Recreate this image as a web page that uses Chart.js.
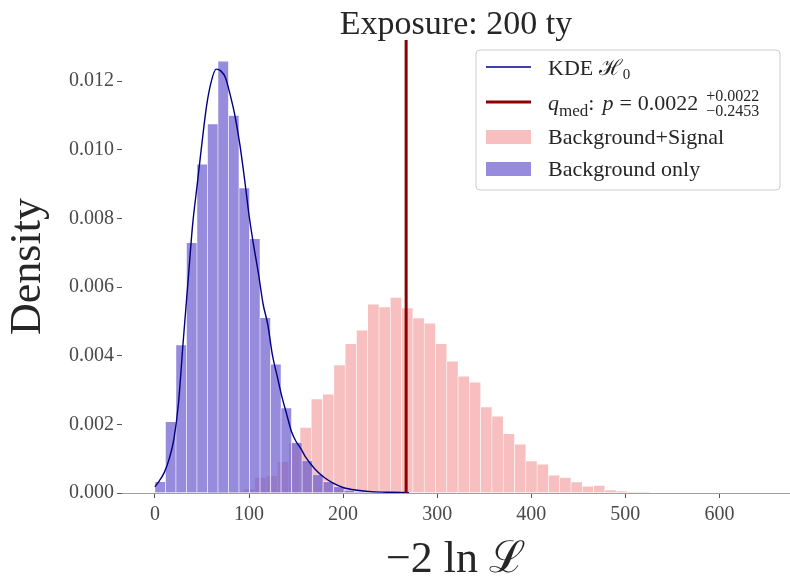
<!DOCTYPE html>
<html>
<head>
<meta charset="utf-8">
<script src="https://cdn.jsdelivr.net/npm/chart.js@4.4.1/dist/chart.umd.min.js"></script>
<style>
  html, body { margin: 0; padding: 0; background: #fff; }
  #wrap { width: 790px; height: 580px; }
</style>
</head>
<body>
<div id="wrap"><canvas id="histChart" width="790" height="580"></canvas></div>
<script>
// background only: bin start, bin width, density per bin
const bgStart = 0;
const bgWidth = 11.17;
const bgDensity = [0.00033, 0.00208, 0.00431, 0.00729, 0.00958, 0.01075, 0.01258, 0.0110, 0.00889, 0.00741,
  0.00511, 0.00375, 0.00248, 0.00147, 0.00094, 0.00054, 0.00033, 0.00018, 0.00008, 0.00004, 0.00002];

// background + signal
const sigStart = 58.2;
const sigWidth = 12.0;
const sigDensity = [0.00002, 0.00003, 0.00004, 0.00012, 0.00045, 0.0005, 0.00091, 0.00145, 0.00191, 0.00274,
  0.00288, 0.00373, 0.00435, 0.00474, 0.0055, 0.00542, 0.0057, 0.00539, 0.0051, 0.00495,
  0.00435, 0.00384, 0.0034, 0.00323, 0.00251, 0.00224, 0.00173, 0.00142, 0.00093, 0.00084,
  0.00052, 0.00045, 0.00032, 0.0002, 0.00022, 0.00009, 0.00006, 0.00003, 0.00002];

// KDE of H0
const kdeX = [0, 5, 10, 15, 20, 25, 30, 35, 40, 45, 50, 55, 60, 65, 70, 75, 80, 85, 90, 95, 100,
  105, 110, 115, 120, 125, 130, 135, 140, 145, 150, 155, 160, 170, 180, 190, 200, 215, 230, 250, 270];
const kdeY = [0.00018, 0.00037, 0.0006, 0.00098, 0.00155, 0.0026, 0.0044, 0.0061, 0.0078, 0.0090, 0.0102,
  0.0113, 0.0120, 0.01235, 0.0123, 0.0121, 0.0116, 0.0110, 0.0102, 0.0092, 0.0081,
  0.0072, 0.0064, 0.0055, 0.0049, 0.0040, 0.0034, 0.0028, 0.0023, 0.0018, 0.0015,
  0.0013, 0.00105, 0.0007, 0.00045, 0.00028, 0.00016, 0.00008, 0.00004, 0.00002, 0.00001];

// median test statistic
const qMed = 267;

const xMin = -35, xMax = 675;
const yMin = 0, yMax = 0.0132;
const xTicks = [0, 100, 200, 300, 400, 500, 600];
const yTicks = [0, 0.002, 0.004, 0.006, 0.008, 0.010, 0.012];

const SERIF = '"Liberation Serif", "DejaVu Serif", serif';
const TEXT = '#262626';
const BLUE = 'rgba(106, 90, 205, 0.7)';
const PINK = 'rgba(240, 128, 128, 0.5)';

const bgData = bgDensity.map((d, i) => ({ x: bgStart + bgWidth * (i + 0.5), y: d }));
const sigData = sigDensity.map((d, i) => ({ x: sigStart + sigWidth * (i + 0.5), y: d }));
const kdeData = kdeX.map((x, i) => ({ x: x, y: kdeY[i] }));

// title and legend drawn by hand (sub/superscripts)
const decorPlugin = {
  id: 'decor',
  afterDraw(chart) {
    const ctx = chart.ctx;
    const area = chart.chartArea;
    ctx.save();
    ctx.fillStyle = TEXT;
    ctx.textBaseline = 'alphabetic';

    // title
    ctx.font = '34px ' + SERIF;
    ctx.textAlign = 'center';
    ctx.fillText('Exposure: 200 ty', (area.left + area.right) / 2, 34);

    // legend frame
    const lx = 476, ly = 50, lw = 304, lh = 140;
    ctx.beginPath();
    ctx.roundRect(lx, ly, lw, lh, 4);
    ctx.fillStyle = 'rgba(255,255,255,0.8)';
    ctx.fill();
    ctx.strokeStyle = '#cccccc';
    ctx.lineWidth = 1;
    ctx.stroke();

    const hx0 = 486, hx1 = 531, tx = 548;
    ctx.textAlign = 'left';
    ctx.lineCap = 'butt';

    // KDE row
    ctx.strokeStyle = '#000080';
    ctx.lineWidth = 1.5;
    ctx.beginPath(); ctx.moveTo(hx0, 67); ctx.lineTo(hx1, 67); ctx.stroke();
    ctx.fillStyle = TEXT;
    let x = tx;
    ctx.font = '22px ' + SERIF;
    ctx.fillText('KDE ', x, 75); x += ctx.measureText('KDE ').width;
    ctx.font = '22px ' + SERIF;
    ctx.fillText('\u210B', x, 75); x += ctx.measureText('\u210B').width + 1;
    ctx.font = '15px ' + SERIF;
    ctx.fillText('0', x, 79);

    // q_med row
    ctx.strokeStyle = '#8b0000';
    ctx.lineWidth = 3;
    ctx.beginPath(); ctx.moveTo(hx0, 102); ctx.lineTo(hx1, 102); ctx.stroke();
    x = tx;
    const base = 110;
    ctx.font = 'italic 22px ' + SERIF;
    ctx.fillText('q', x, base); x += ctx.measureText('q').width;
    ctx.font = '17px ' + SERIF;
    ctx.fillText('med', x, base + 6); x += ctx.measureText('med').width;
    ctx.font = '22px ' + SERIF;
    ctx.fillText(':', x, base); x += ctx.measureText(':').width + 8;
    ctx.font = 'italic 22px ' + SERIF;
    ctx.fillText('p', x, base); x += ctx.measureText('p').width + 6;
    ctx.font = '22px ' + SERIF;
    ctx.fillText('=', x, base); x += ctx.measureText('=').width + 6;
    ctx.fillText('0.0022', x, base); x += ctx.measureText('0.0022').width + 8;
    ctx.font = '16px ' + SERIF;
    ctx.fillText('+0.0022', x, base - 9);
    ctx.fillText('\u22120.2453', x, base + 6);

    // patches
    const rows = [[PINK, 'Background+Signal', 130, 144], [BLUE, 'Background only', 162, 176]];
    rows.forEach(([col, label, top, bottom]) => {
      ctx.fillStyle = col;
      ctx.fillRect(hx0, top, hx1 - hx0, bottom - top);
      ctx.fillStyle = TEXT;
      ctx.font = '22px ' + SERIF;
      ctx.fillText(label, tx, bottom);
    });
    ctx.restore();
  }
};

const ctx = document.getElementById('histChart').getContext('2d');
const chart = new Chart(ctx, {
  type: 'bar',
  data: {
    datasets: [
      {
        type: 'line',
        label: 'q_med',
        data: [{ x: qMed, y: yMin }, { x: qMed, y: yMax }],
        borderColor: '#8b0000',
        borderWidth: 3,
        pointRadius: 0,
        order: 0
      },
      {
        type: 'line',
        label: 'KDE H0',
        data: kdeData,
        borderColor: '#000080',
        borderWidth: 1.4,
        pointRadius: 0,
        cubicInterpolationMode: 'monotone',
        order: 1
      },
      {
        label: 'Background only',
        data: bgData,
        xAxisID: 'x',
        backgroundColor: BLUE,
        borderColor: 'rgba(255,255,255,0.8)',
        borderWidth: 0.6,
        grouped: false,
        barPercentage: 1,
        categoryPercentage: 1,
        order: 2
      },
      {
        label: 'Background+Signal',
        data: sigData,
        xAxisID: 'x2',
        backgroundColor: PINK,
        borderColor: 'rgba(255,255,255,0.8)',
        borderWidth: 0.6,
        grouped: false,
        barPercentage: 1,
        categoryPercentage: 1,
        order: 3
      }
    ]
  },
  options: {
    responsive: false,
    animation: false,
    devicePixelRatio: 1,
    layout: { padding: { top: 40, left: 0, right: 0, bottom: 0 } },
    plugins: {
      legend: { display: false },
      tooltip: { enabled: false }
    },
    scales: {
      x: {
        type: 'linear',
        min: xMin,
        max: xMax,
        offset: false,
        afterFit: s => { s.height = 87; },
        afterBuildTicks: s => { s.ticks = xTicks.map(v => ({ value: v })); },
        border: { display: true, color: '#a0a0a0', width: 1 },
        grid: { display: true, offset: false, drawOnChartArea: false, drawTicks: true, tickLength: 5, tickColor: '#555555' },
        ticks: {
          padding: 5,
          color: '#4a4a4a',
          font: { family: SERIF, size: 20 },
          maxRotation: 0
        },
        title: {
          display: true,
          text: '\u22122 ln \u2112',
          color: TEXT,
          font: { family: SERIF, size: 44, lineHeight: 0.9 },
          padding: { top: 0, bottom: 0 }
        }
      },
      x2: {
        type: 'linear',
        min: xMin,
        max: xMax,
        offset: false,
        display: false,
        grid: { offset: false }
      },
      y: {
        type: 'linear',
        min: yMin,
        max: yMax,
        afterFit: s => { s.width = 122; },
        afterBuildTicks: s => { s.ticks = yTicks.map(v => ({ value: v })); },
        border: { display: false },
        grid: { display: true, drawOnChartArea: false, drawTicks: true, tickLength: 5, tickColor: '#555555' },
        ticks: {
          padding: 3,
          color: '#4a4a4a',
          font: { family: SERIF, size: 20 },
          callback: v => v.toFixed(3)
        },
        title: {
          display: true,
          text: 'Density',
          color: TEXT,
          font: { family: SERIF, size: 44, lineHeight: 1.2 },
          padding: { top: 2, bottom: 0 }
        }
      }
    }
  },
  plugins: [decorPlugin]
});
</script>
</body>
</html>
